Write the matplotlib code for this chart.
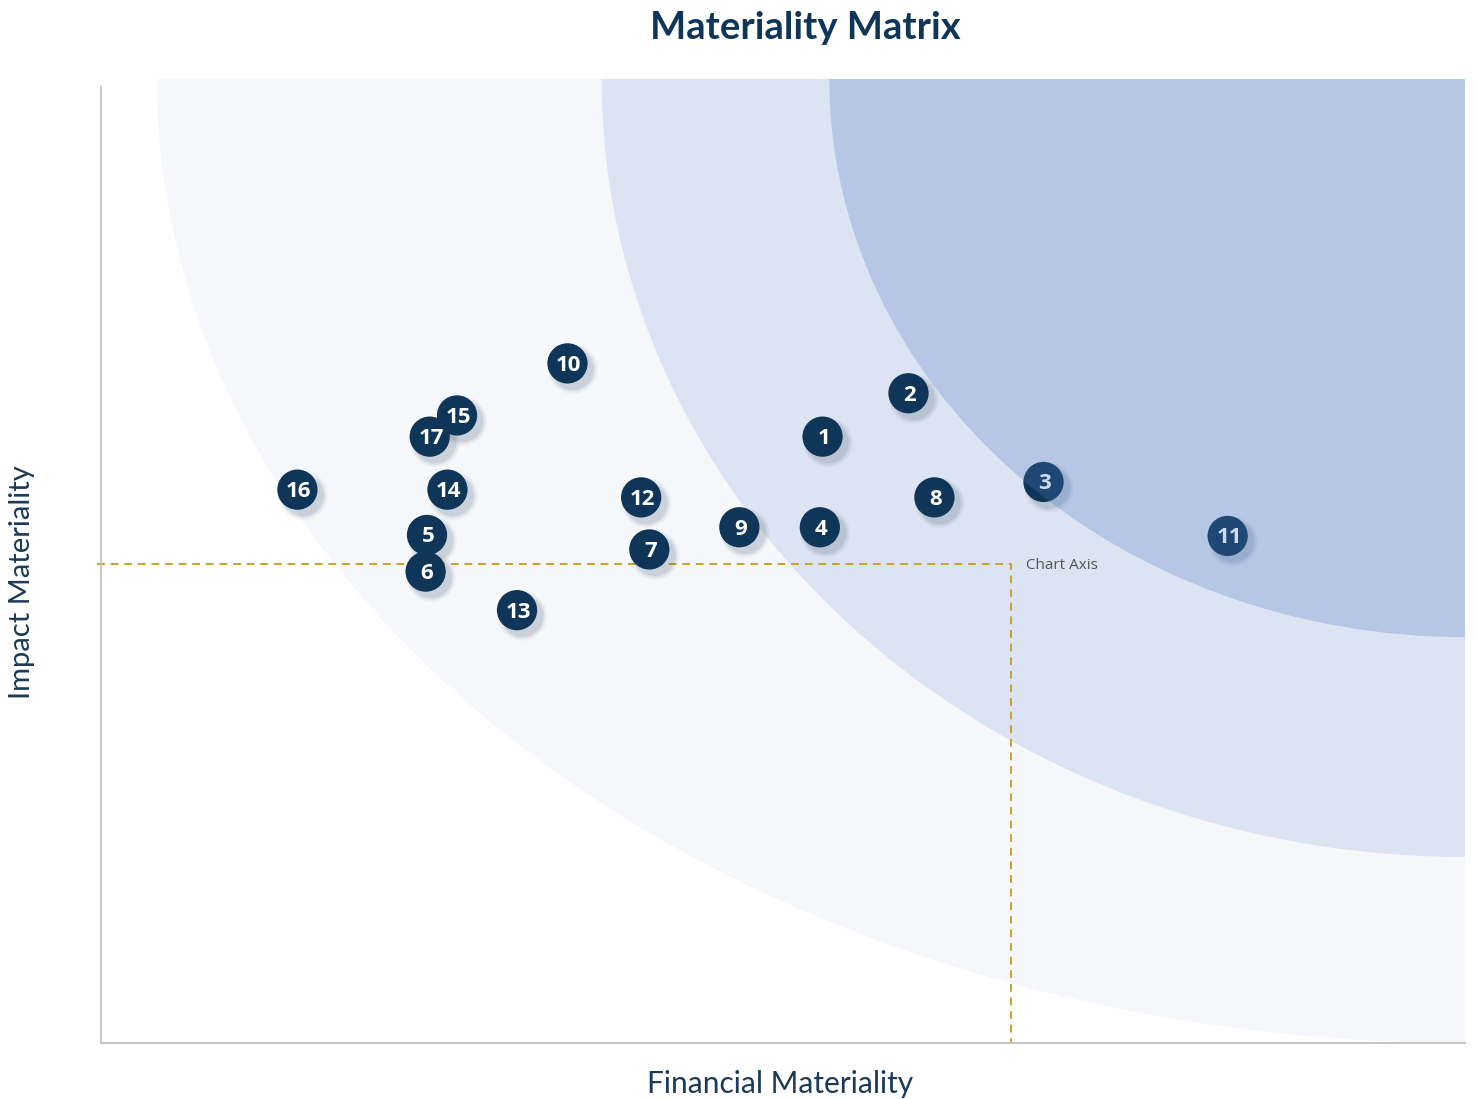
import matplotlib.pyplot as plt
from matplotlib.patches import Ellipse
import numpy as np

# Materiality matrix topics (id, financial, impact)
topics = ["1", "2", "3", "4", "5", "6", "7", "8", "9", "10",
          "11", "12", "13", "14", "15", "16", "17"]
financial = [5.29, 5.92, 6.91, 5.27, 2.39, 2.38, 4.02, 6.11, 4.68, 3.42,
             8.26, 3.96, 3.05, 2.54, 2.61, 1.44, 2.41]
impact = [6.29, 6.74, 5.82, 5.35, 5.27, 4.89, 5.12, 5.66, 5.35, 7.05,
          5.26, 5.66, 4.49, 5.74, 6.51, 5.74, 6.29]

# threshold ("Chart Axis") lines
thr_x = 6.67
thr_y = 4.97

# priority bands: quarter ellipses around the top-right corner (semi-axes x, y)
band_x = [9.59, 6.33, 4.66]
band_y = [10.0, 8.07, 5.79]
band_colors = ["#F5F7FB", "#DCE3F2", "#4E7CC0"]
band_alpha = [1.0, 1.0, 0.27]
band_z = [0, 1, 6]

navy = "#0F3658"

fig = plt.figure(figsize=(14.78, 10.99), dpi=100)
ax = fig.add_axes([101 / 1478, 56 / 1099, 1364 / 1478, 964 / 1099])
ax.set_xlim(0, 10)
ax.set_ylim(0, 10)

for w, h, c, a, z in zip(band_x, band_y, band_colors, band_alpha, band_z):
    ax.add_patch(Ellipse((10, 10), 2 * w, 2 * h, facecolor=c, alpha=a,
                         edgecolor="none", zorder=z))

# dashed threshold
ax.plot([-0.03, thr_x, thr_x], [thr_y, thr_y, 0], ls=(0, (4, 3)), lw=1.4,
        color="#C9A227", zorder=2, clip_on=False)
ax.text(thr_x + 0.11, thr_y - 0.02, "Chart Axis", fontsize=11, color="#555555",
        va="center", ha="left", family="Open Sans", zorder=7)

# soft shadow below markers
for s, al in [(1250, 0.05), (1050, 0.07), (900, 0.09)]:
    ax.scatter(np.array(financial) + 0.04, np.array(impact) - 0.06, s=s,
               color="#2a3f5a", alpha=al, edgecolors="none", zorder=3)

ax.scatter(financial, impact, s=840, color=navy, edgecolors="none", zorder=4)
for t, x, y in zip(topics, financial, impact):
    ax.text(x + 0.01, y - 0.02, t, color="white", fontsize=16, fontweight="bold",
            ha="center", va="center", family="Open Sans", zorder=5)

for side in ["top", "right"]:
    ax.spines[side].set_visible(False)
for side in ["left", "bottom"]:
    ax.spines[side].set_color("#BFBFBF")
    ax.spines[side].set_linewidth(1.3)
    ax.spines[side].set_zorder(8)
ax.spines["left"].set_bounds(0, 9.92)
ax.set_xticks([])
ax.set_yticks([])

fig.text(805 / 1478, 1 - 28 / 1099, "Materiality Matrix", fontsize=27.5,
         fontweight="bold", color=navy, ha="center", va="center", family="Lato")
fig.text(780 / 1478, 1 - 1084 / 1099, "Financial Materiality", fontsize=21.5,
         color="#1B3A57", ha="center", va="center", family="Lato")
fig.text(22 / 1478, 1 - 582 / 1099, "Impact Materiality", fontsize=21,
         color="#1B3A57", ha="center", va="center", rotation=90, family="Lato")

fig.savefig("out.png", dpi=100)
